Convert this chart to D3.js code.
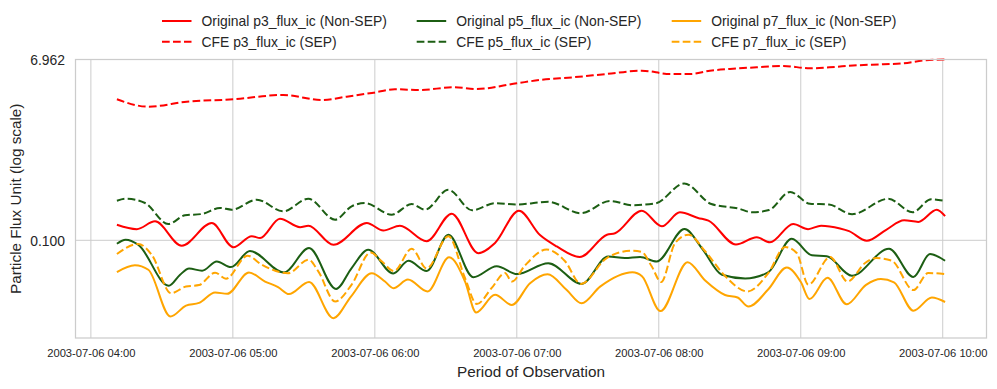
<!DOCTYPE html>
<html><head><meta charset="utf-8">
<script src="https://cdn.jsdelivr.net/npm/d3@7"></script>
<style>
html,body{margin:0;padding:0;background:#fff;}
svg{display:block;font-family:"Liberation Sans",Arial,Helvetica,sans-serif;}
</style></head><body>
<svg id="chart" width="997" height="389"></svg>
<script>
// ---------- DATA ----------
const startTime = "2003-07-06 04:00";
const xTickLabels = ["2003-07-06 04:00","2003-07-06 05:00","2003-07-06 06:00","2003-07-06 07:00","2003-07-06 08:00","2003-07-06 09:00","2003-07-06 10:00"];
const yTickValues = [0.1, 6.962];
const seriesNames = ["Original p3_flux_ic (Non-SEP)","CFE p3_flux_ic (SEP)","Original p5_flux_ic (Non-SEP)","CFE p5_flux_ic (SEP)","Original p7_flux_ic (Non-SEP)","CFE p7_flux_ic (SEP)"];

// minutes after 04:00 and flux values
const p3OrigMin = [11,19.4,27.1,38.4,51.1,60.2,68,71.5,79.9,88.4,91.9,102.5,116.6,123.6,130.6,141.9,152.5,163.7,170.8,180.9,189.8,196.9,206.6,218.1,221.5,232.8,241.3,248.9,256.6,261,272.6,281.4,287,296.8,303.1,308.6,316.6,320.4,327.9,336.1,343.7,349.7,357.5,361];
const p3OrigVal = [0.144,0.130,0.156,0.088,0.150,0.085,0.110,0.1055,0.166,0.136,0.141,0.090,0.150,0.126,0.141,0.098,0.187,0.074,0.094,0.200,0.113,0.0865,0.0676,0.114,0.118,0.200,0.139,0.193,0.169,0.1585,0.0906,0.1075,0.0954,0.1466,0.130,0.141,0.132,0.124,0.099,0.128,0.160,0.154,0.205,0.176];

const p3CfeMin = [11,24.3,40.5,60.2,81.3,97.5,108.1,119.4,128.5,139.1,153.2,163.1,180,189.8,203.9,218,232.8,244.8,253.3,261.6,270.1,281.4,292.6,303.9,312.1,323.7,334.9,343.4,351.8,361];
const p3CfeVal = [2.737,2.3,2.587,2.737,3.028,2.692,2.909,3.196,3.461,3.404,3.628,3.486,3.985,4.305,4.587,4.958,5.356,4.958,4.958,5.356,5.573,5.8,5.98,5.665,5.8,6.078,6.222,6.37,6.8,6.962];

const p5OrigMin = [11,14.7,20,32.9,37.7,41.5,47,53.2,59.2,67.2,81.6,92.2,103.6,110.2,117.2,127.8,134.2,141.9,151.1,161.6,171.5,180.1,193.3,207.4,218.6,225.7,232.1,239.1,250.9,258.3,266.7,276.5,286.2,296.2,304.7,311,321.6,337.3,347.6,354.6,361];
const p5OrigVal = [0.0923,0.1014,0.0902,0.0344,0.0446,0.0516,0.049,0.0608,0.0534,0.0778,0.047,0.0835,0.0319,0.0522,0.0802,0.0459,0.0619,0.0486,0.1141,0.042,0.0543,0.0453,0.0584,0.0359,0.0684,0.066,0.0676,0.0608,0.1303,0.0825,0.0445,0.0408,0.047,0.1036,0.0703,0.0687,0.0436,0.0821,0.0423,0.0725,0.0619];

const p5CfeMin = [11,15.1,22.9,32.7,39.8,46.8,54.6,59.5,70.1,81.3,91.9,103.2,110.2,115.8,127.1,135.6,141.2,151.1,161.1,170.8,179.7,193.3,207.1,219.4,228.9,238.8,250.7,262.2,273.5,279.6,286.6,295.5,303.9,311.9,321.7,337,347.3,355.1,361];
const p5CfeVal = [0.2534,0.2655,0.2399,0.1466,0.1798,0.1854,0.2134,0.2051,0.2594,0.1975,0.2655,0.1622,0.222,0.2399,0.1824,0.2344,0.2051,0.327,0.2022,0.2388,0.2317,0.2468,0.1888,0.2517,0.228,0.2388,0.3795,0.2344,0.211,0.193,0.2036,0.3107,0.236,0.2317,0.1845,0.2649,0.1934,0.2618,0.2517];

const p7OrigMin = [11,18.6,24.3,33.6,40.2,45.7,52.5,57.6,66.8,73.6,79.1,83.7,92.2,102.5,109.9,118.7,124.3,127.8,134,142.3,151.4,158.1,162.8,170.8,177.9,185.6,193,201.1,207.4,215.2,228.9,232.9,240.7,252.2,259.6,268,273.3,277.9,286.2,294.1,300.1,303.7,311.3,319.4,327.6,333.9,339.4,347.6,355.4,361];
const p7OrigVal = [0.0475,0.0557,0.0501,0.0167,0.0216,0.023,0.0294,0.0285,0.047,0.038,0.0334,0.0283,0.0376,0.0161,0.0267,0.0462,0.038,0.0325,0.0398,0.0301,0.0671,0.0382,0.0184,0.0279,0.0219,0.0365,0.045,0.0311,0.0228,0.0337,0.0472,0.043,0.019,0.0598,0.0389,0.0277,0.0261,0.0211,0.0315,0.0528,0.0373,0.0252,0.0415,0.0223,0.0352,0.0403,0.0373,0.0192,0.0261,0.0235];

const p7CfeMin = [11,20,25.7,33.9,40.2,45.7,52.5,57.1,66.2,72.2,83.3,92,96.1,103.2,110.2,118.2,122.9,128.1,135.6,141.9,151.1,158.1,163.1,169.4,175,177.9,183.5,192.6,200.4,207.1,218,228.6,232.8,237,241,246.9,252.5,259.6,268,277.5,286.3,293.4,298.3,303.2,312.4,319.8,327.2,331.9,338.5,347.6,353.9,361];
const p7CfeVal = [0.0725,0.0917,0.0713,0.0289,0.0338,0.035,0.0468,0.0406,0.0697,0.0564,0.0462,0.0634,0.0483,0.0238,0.0353,0.0751,0.0611,0.0486,0.0821,0.0516,0.1098,0.0413,0.0224,0.0327,0.0464,0.038,0.0556,0.0806,0.0611,0.0359,0.066,0.0783,0.076,0.0543,0.0376,0.0939,0.1141,0.0773,0.0433,0.0301,0.0464,0.0855,0.0742,0.0353,0.0676,0.038,0.0587,0.066,0.0619,0.0311,0.0464,0.0453];

// ---------- STYLE / LAYOUT ----------
const parse = d3.timeParse("%Y-%m-%d %H:%M");
const t0 = parse(startTime);
const toDate = m => new Date(t0.getTime() + m * 60000);

const seriesMins = [p3OrigMin, p3CfeMin, p5OrigMin, p5CfeMin, p7OrigMin, p7CfeMin];
const seriesVals = [p3OrigVal, p3CfeVal, p5OrigVal, p5CfeVal, p7OrigVal, p7CfeVal];
const colors = ["#ff0000","#ff0000","#1c5e13","#1c5e13","#ffa500","#ffa500"];
const dashed = [false,true,false,true,false,true];

const L = 75.5, R = 986.5, T = 59.5, B = 338;
const allMins = seriesMins.flat();
const mMin = d3.min(allMins), mMax = d3.max(allMins), pad = (mMax - mMin) * 0.05;
const x = d3.scaleTime().domain([toDate(mMin - pad), toDate(mMax + pad)]).range([L, R]);
const y = d3.scaleLog().domain([0.0101, 6.962]).range([B, T]);

const svg = d3.select("#chart");
const txt = "#262626", grid = "#cccccc";

svg.append("rect").attr("width",997).attr("height",389).attr("fill","#fff");

// grid
const xTicks = xTickLabels.map(parse);
svg.append("g").selectAll("line").data(xTicks).join("line")
  .attr("x1", d => x(d)).attr("x2", d => x(d)).attr("y1", T).attr("y2", B)
  .attr("stroke", grid).attr("stroke-width", 1);
svg.append("g").selectAll("line").data(yTickValues).join("line")
  .attr("x1", L).attr("x2", R).attr("y1", d => y(d)).attr("y2", d => y(d))
  .attr("stroke", grid).attr("stroke-width", 1);

// lines
const line = d3.line().x(d => x(d.t)).y(d => y(d.v)).curve(d3.curveMonotoneX);
seriesNames.forEach((name, i) => {
  const pts = seriesMins[i].map((m, j) => ({t: toDate(m), v: seriesVals[i][j]}));
  svg.append("path").datum(pts).attr("d", line)
    .attr("fill","none").attr("stroke", colors[i]).attr("stroke-width", 2)
    .attr("stroke-dasharray", dashed[i] ? "7.7,3.3" : null)
    .attr("stroke-linejoin","round");
});

// frame
svg.append("rect").attr("x", L).attr("y", T).attr("width", R - L).attr("height", B - T)
  .attr("fill","none").attr("stroke", grid).attr("stroke-width", 1.25);

// axes
const xAxis = svg.append("g").attr("transform", `translate(0,${B})`)
  .call(d3.axisBottom(x).tickValues(xTicks).tickFormat(d3.timeFormat("%Y-%m-%d %H:%M")).tickSize(0).tickPadding(11.4));
xAxis.select(".domain").remove();
xAxis.selectAll("text").attr("fill", txt).style("font-size","11.2px").style("font-family",'"Liberation Sans",Arial,sans-serif');

const yAxis = svg.append("g").attr("transform", `translate(${L},0)`)
  .call(d3.axisLeft(y).tickValues(yTickValues).tickFormat(d3.format(".3f")).tickSize(0).tickPadding(10.5));
yAxis.select(".domain").remove();
yAxis.selectAll("text").attr("fill", txt).attr("dy","0.36em").style("font-size","13.9px").style("font-family",'"Liberation Sans",Arial,sans-serif');

// axis labels
svg.append("text").attr("x", (L + R) / 2).attr("y", 376.5).attr("text-anchor","middle")
  .attr("fill", txt).style("font-size","15.3px").text("Period of Observation");
svg.append("text").attr("transform", `translate(21,${(T + B) / 2}) rotate(-90)`).attr("text-anchor","middle")
  .attr("fill", txt).style("font-size","15.3px").text("Particle Flux Unit (log scale)");

// legend
const colX = [162, 416.7, 671.7], rowY = [21, 41.7];
seriesNames.forEach((name, i) => {
  const cx = colX[Math.floor(i / 2)], cy = rowY[i % 2];
  svg.append("line").attr("x1", cx).attr("x2", cx + 29.5).attr("y1", cy).attr("y2", cy)
    .attr("stroke", colors[i]).attr("stroke-width", 2)
    .attr("stroke-dasharray", dashed[i] ? "7.7,3.3" : null);
  svg.append("text").attr("x", cx + 39.5).attr("y", cy + 5).attr("fill", txt)
    .style("font-size","13.9px").text(name);
});
</script>
</body></html>
